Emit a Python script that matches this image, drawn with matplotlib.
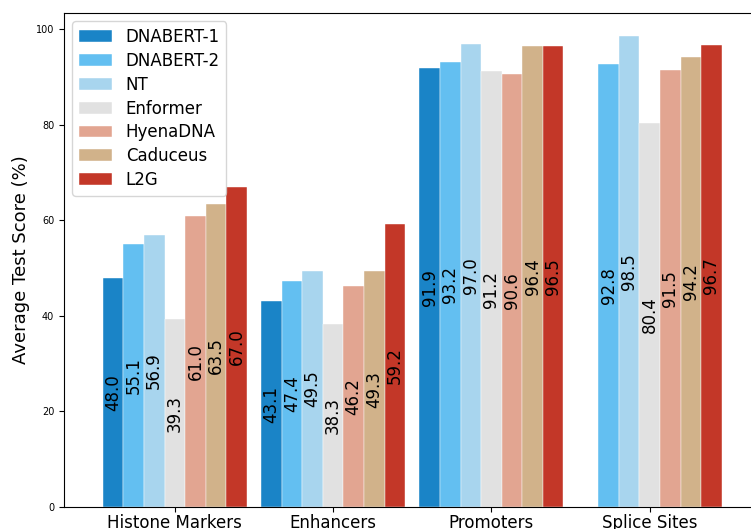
import numpy as np
import matplotlib
matplotlib.use("Agg")
import matplotlib.pyplot as plt

categories = ["Histone Markers", "Enhancers", "Promoters", "Splice Sites"]
models = ["DNABERT-1", "DNABERT-2", "NT", "Enformer", "HyenaDNA", "Caduceus", "L2G"]
colors = ["#1a84c7", "#63bff1", "#a8d5ee", "#e1e1e1", "#e2a591", "#d1b28a", "#c33728"]

dnabert1 = [48.0, 43.1, 91.9, np.nan]
dnabert2 = [55.1, 47.4, 93.2, 92.8]
nt = [56.9, 49.5, 97.0, 98.5]
enformer = [39.3, 38.3, 91.2, 80.4]
hyenadna = [61.0, 46.2, 90.6, 91.5]
caduceus = [63.5, 49.3, 96.4, 94.2]
l2g = [67.0, 59.2, 96.5, 96.7]
series = [dnabert1, dnabert2, nt, enformer, hyenadna, caduceus, l2g]

W, H = 751, 529
fig = plt.figure(figsize=(W / 100, H / 100), dpi=100)
units_px = 158.3
ax = fig.add_axes([64 / W, 1 - 507 / H, 4.45 * units_px / W, (507 - 13) / H])

x = np.arange(len(categories))
bw = 0.13
for i, (name, vals, c) in enumerate(zip(models, series, colors)):
    pos = x + (i - 3) * bw
    ax.bar(pos, vals, bw, color=c, label=name, edgecolor="white", linewidth=0.3)
    for p, v in zip(pos, vals):
        if np.isnan(v):
            continue
        ax.text(p, v / 2, f"{v:.1f}", rotation=90, ha="center", va="center", fontsize=12)

ax.set_xlim(-0.70, 3.75)
ax.set_ylim(0, 103.4)
ax.set_xticks(x)
ax.set_xticklabels(categories, fontsize=12)
ax.tick_params(axis="x", pad=1.5)
ax.tick_params(axis="y", labelsize=7)
ax.set_ylabel("Average Test Score (%)", fontsize=13)
ax.legend(loc="upper left", fontsize=12, labelspacing=0.35)

fig.savefig("out.png", dpi=100)
